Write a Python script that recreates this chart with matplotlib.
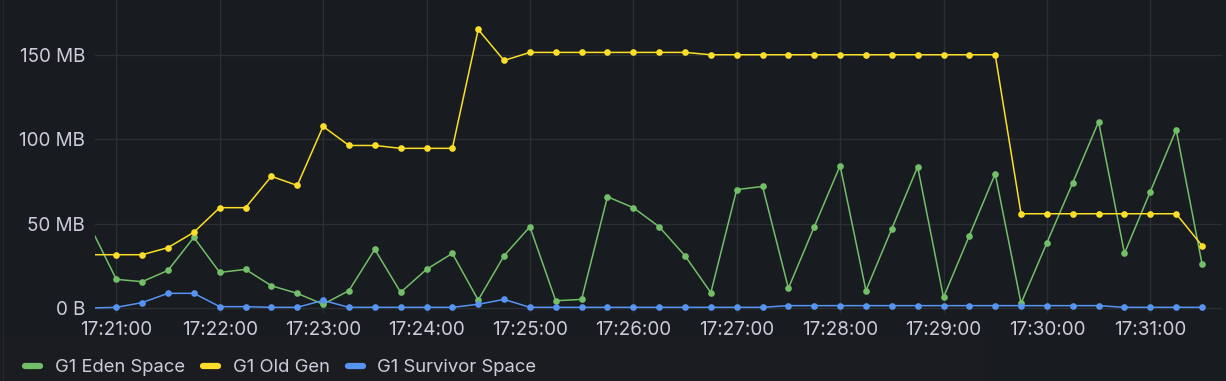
import matplotlib
matplotlib.use("Agg")
import matplotlib.pyplot as plt
import matplotlib.dates as mdates
import numpy as np
import pandas as pd
from matplotlib.patches import Rectangle
from matplotlib.lines import Line2D

# ---- data (MB), one sample every 15 s from 17:20:45 to 17:31:30 ----
start_time = "2024-01-01 17:20:45"
n_points = 44
eden_space = [48.0, 17.0, 15.6, 22.3, 41.9, 21.1, 22.9, 13.2, 8.7, 2.2, 10.3, 34.8,
              9.3, 22.9, 32.4, 4.7, 31.0, 48.2, 4.3, 5.1, 66.0, 59.5, 48.2, 31.0,
              9.1, 70.2, 72.1, 11.7, 48.2, 84.4, 10.3, 47.0, 83.8, 6.3, 42.9, 79.6,
              2.8, 38.7, 74.3, 110.5, 32.4, 69.0, 105.7, 26.3]
old_gen = [31.6, 31.6, 31.6, 35.8, 44.9, 59.5, 59.5, 78.1, 72.7, 107.7, 96.4, 96.4,
           94.7, 94.7, 94.7, 165.2, 146.8, 151.6, 151.6, 151.6, 151.6, 151.6, 151.6, 151.6,
           150.2, 150.2, 150.2, 150.2, 150.2, 150.2, 150.2, 150.2, 150.2, 150.2, 150.2, 150.2,
           55.9, 55.9, 55.9, 55.9, 55.9, 55.9, 55.9, 37.0]
survivor_space = [0.0, 0.4, 3.2, 8.7, 8.7, 0.8, 0.8, 0.4, 0.4, 4.5, 0.4, 0.4,
                  0.4, 0.4, 0.4, 2.2, 5.1, 0.4, 0.4, 0.4, 0.4, 0.4, 0.4, 0.4,
                  0.4, 0.4, 0.4, 1.4, 1.4, 1.4, 1.4, 1.4, 1.4, 1.4, 1.4, 1.4,
                  1.4, 1.4, 1.4, 1.4, 0.4, 0.4, 0.4, 0.4]
series_names = ["G1 Eden Space", "G1 Old Gen", "G1 Survivor Space"]
series_colors = ["#73bf69", "#fade2a", "#5794f2"]
y_ticks = [0, 50, 100, 150]
y_tick_labels = ["0 B", "50 MB", "100 MB", "150 MB"]

times = pd.date_range(start_time, periods=n_points, freq="15s")

BG = "#181b1f"
TEXT = "#ccccdc"
GRID = "#2b2e33"
FS = 13.6
LFS = 13.3

W, H = 1226, 381
fig = plt.figure(figsize=(W / 100, H / 100), dpi=100, facecolor=BG)
plt.rcParams['font.family'] = ['Inter', 'DejaVu Sans']

# legend area slightly different tint
fig.patches.append(Rectangle((0, 0), 985 / W, 44 / H, transform=fig.transFigure,
                             facecolor="#1b1c1f", edgecolor="none", zorder=0))
# left panel border
fig.add_artist(Line2D([3 / W, 3 / W], [0, 1], transform=fig.transFigure,
                      color="#25282c", lw=1))

left_px, right_px, top_px, bottom_px = 95, 1222, 0, 313
ax = fig.add_axes([left_px / W, 1 - bottom_px / H, (right_px - left_px) / W,
                   (bottom_px - top_px) / H])
ax.set_facecolor(BG)

for vals, name, col in zip([eden_space, old_gen, survivor_space], series_names, series_colors):
    ax.plot(times, vals, color=col, lw=1.1, marker="o", markersize=4.8,
            markeredgewidth=0, label=name, clip_on=True, zorder=3)

t0 = pd.Timestamp("2024-01-01 17:21:00")
px_per_min = 103.4
xmin = t0 + pd.Timedelta(minutes=(left_px - 116.3) / px_per_min)
xmax = t0 + pd.Timedelta(minutes=(right_px - 116.3) / px_per_min)
ax.set_xlim(xmin, xmax)

px_per_mb = 84.3 / 50
ax.set_ylim((308 - bottom_px) / px_per_mb, (308 - top_px) / px_per_mb)

ax.set_yticks(y_ticks)
ax.set_yticklabels(y_tick_labels)
ax.xaxis.set_major_locator(mdates.MinuteLocator())
ax.xaxis.set_major_formatter(mdates.DateFormatter("%H:%M:%S"))

ax.grid(True, color=GRID, lw=1)
ax.set_axisbelow(True)
for s in ax.spines.values():
    s.set_visible(False)
ax.tick_params(axis="both", colors=TEXT, labelsize=FS, length=0)
ax.tick_params(axis="y", pad=7)
ax.tick_params(axis="x", pad=6)
for lab in ax.get_xticklabels() + ax.get_yticklabels():
    lab.set_color(TEXT)

# legend
leg_y = 1 - 366 / H
text_y = 1 - 367.5 / H
entries = [(22, 55), (200, 233), (345, 377)]
for (mx, tx), name, col in zip(entries, series_names, series_colors):
    fig.add_artist(Line2D([(mx + 3) / W, (mx + 18) / W], [leg_y, leg_y],
                          transform=fig.transFigure, color=col, lw=4.5,
                          solid_capstyle="round"))
    fig.text(tx / W, text_y, name, color=TEXT, fontsize=LFS, va="center", ha="left")

fig.savefig("out.png", dpi=100, facecolor=BG)
